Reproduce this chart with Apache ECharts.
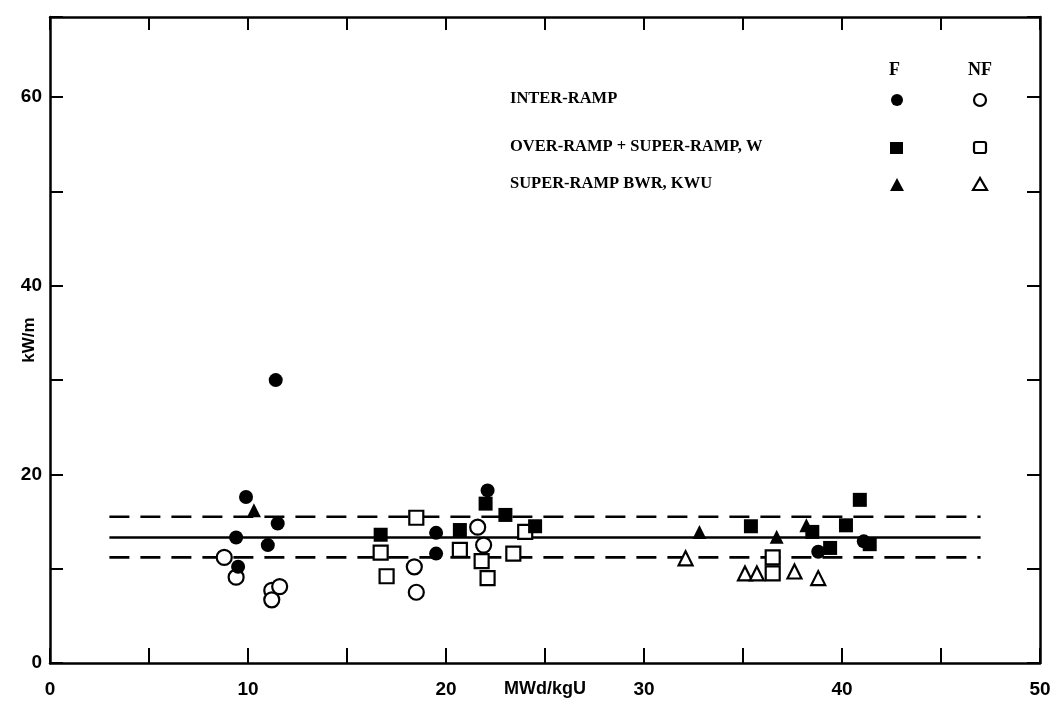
<!DOCTYPE html>
<html>
<head>
<meta charset="utf-8">
<script src="https://cdn.jsdelivr.net/npm/echarts@6/dist/echarts.min.js"></script>
<style>
  html, body { margin: 0; padding: 0; background: #fff; }
  #main { width: 1061px; height: 714px; }
</style>
</head>
<body>
<div id="main"></div>
<script>
// data: [MWd/kgU, kW/m]
var interRampF = [[9.9, 17.6], [11.4, 30.0], [11.5, 14.8], [9.4, 13.3], [11.0, 12.5], [9.5, 10.2],
  [19.5, 13.8], [19.5, 11.6], [22.1, 18.3], [38.8, 11.8], [41.1, 12.9]]
var interRampNF = [[8.8, 11.2], [9.4, 9.1], [11.2, 7.7], [11.6, 8.1], [11.2, 6.7],
  [18.4, 10.2], [18.5, 7.5], [21.6, 14.4], [21.9, 12.5]]
var overRampF = [[16.7, 13.6], [20.7, 14.1], [22.0, 16.9], [23.0, 15.7], [24.5, 14.5],
  [35.4, 14.5], [38.5, 13.9], [39.4, 12.2], [40.2, 14.6], [40.9, 17.3], [41.4, 12.6]]
var overRampNF = [[16.7, 11.7], [17.0, 9.2], [18.5, 15.4], [20.7, 12.0], [21.8, 10.8], [22.1, 9.0],
  [23.4, 11.6], [24.0, 13.9], [36.5, 11.2], [36.5, 9.5]]
var bwrF = [[10.3, 16.2], [32.8, 13.9], [36.7, 13.4], [38.2, 14.6]]
var bwrNF = [[32.1, 11.1], [35.1, 9.5], [35.7, 9.5], [37.6, 9.7], [38.8, 9.0]]

// mean line and scatter band
var lineRange = [3, 47]
var meanLine = 13.3
var bandUpper = 15.5
var bandLower = 11.2

var xLabels = [0, 10, 20, 30, 40, 50]
var yLabels = [0, 20, 40, 60]

var legendRows = ['INTER-RAMP', 'OVER-RAMP + SUPER-RAMP, W', 'SUPER-RAMP BWR, KWU']

var myChart = echarts.init(document.getElementById('main'))

function hLine (y) {
  return [[lineRange[0], y], [lineRange[1], y]]
}

function scatter (data, symbol, filled, size) {
  return {
    type: 'scatter',
    data: data,
    symbol: symbol,
    symbolSize: size,
    itemStyle: {
      color: filled ? '#000' : '#fff',
      borderColor: '#000',
      borderWidth: filled ? 0 : 2.2,
      opacity: 1
    },
    z: filled ? 4 : 3
  }
}

function refLine (y, dashed) {
  return {
    type: 'line',
    data: hLine(y),
    symbol: 'none',
    lineStyle: { color: '#000', width: 2.6, type: dashed ? [20, 11] : 'solid' },
    z: 2,
    silent: true
  }
}

var tickFont = { fontFamily: 'Liberation Sans', fontWeight: 'bold', fontSize: 19, color: '#000' }
var axisLine = { show: true, onZero: false, lineStyle: { color: '#000', width: 2.5 } }

// legend block drawn as graphics (text + F / NF symbols)
var graphics = [
  { type: 'text', left: 889, top: 61, style: { text: 'F', font: 'bold 18px "Liberation Serif"', fill: '#000' } },
  { type: 'text', left: 968, top: 61, style: { text: 'NF', font: 'bold 18px "Liberation Serif"', fill: '#000' } }
]
var rowY = [100, 148, 185]
legendRows.forEach(function (t, i) {
  graphics.push({ type: 'text', left: 510, top: rowY[i] - 10,
    style: { text: t, font: 'bold 16.5px "Liberation Serif"', fill: '#000' } })
})
// circles
graphics.push({ type: 'circle', shape: { cx: 897, cy: rowY[0], r: 6 }, style: { fill: '#000' } })
graphics.push({ type: 'circle', shape: { cx: 980, cy: rowY[0], r: 6 }, style: { fill: '#fff', stroke: '#000', lineWidth: 2.2 } })
// squares
graphics.push({ type: 'rect', shape: { x: 890, y: rowY[1] - 6, width: 13, height: 12 }, style: { fill: '#000' } })
graphics.push({ type: 'rect', shape: { x: 974, y: rowY[1] - 6, width: 12, height: 11, r: 2 }, style: { fill: '#fff', stroke: '#000', lineWidth: 2.2 } })
// triangles
graphics.push({ type: 'polygon', shape: { points: [[897, rowY[2] - 7], [890, rowY[2] + 6], [904, rowY[2] + 6]] }, style: { fill: '#000' } })
graphics.push({ type: 'polygon', shape: { points: [[980, rowY[2] - 7], [973, rowY[2] + 5], [987, rowY[2] + 5]] }, style: { fill: '#fff', stroke: '#000', lineWidth: 2.2 } })

var option = {
  backgroundColor: '#fff',
  animation: false,
  grid: { left: 50, right: 21, top: 17, bottom: 51, outerBoundsMode: 'none' },
  xAxis: [
    {
      type: 'value', min: 0, max: 50, interval: 5,
      name: 'MWd/kgU', nameLocation: 'middle', nameGap: 17, nameMoveOverlap: false,
      nameTextStyle: { fontFamily: 'Liberation Sans', fontWeight: 'bold', fontSize: 18, color: '#000', verticalAlign: 'top' },
      axisLine: axisLine,
      axisTick: { inside: true, length: 15, lineStyle: { color: '#000', width: 2 } },
      axisLabel: Object.assign({ margin: 17, formatter: function (v) { return xLabels.indexOf(v) >= 0 ? String(v) : '' } }, tickFont),
      splitLine: { show: false }
    },
    {
      type: 'value', position: 'top', min: 0, max: 50, interval: 5,
      axisLine: axisLine,
      axisTick: { inside: true, length: 13, lineStyle: { color: '#000', width: 2 } },
      axisLabel: { show: false },
      splitLine: { show: false }
    }
  ],
  yAxis: [
    {
      type: 'value', min: 0, max: 68.5, interval: 10,
      name: 'kW/m', nameLocation: 'middle', nameGap: 12, nameMoveOverlap: false,
      nameTextStyle: { fontFamily: 'Liberation Sans', fontWeight: 'bold', fontSize: 17, color: '#000' },
      axisLine: axisLine,
      axisTick: { inside: true, length: 13, lineStyle: { color: '#000', width: 2 } },
      axisLabel: Object.assign({ margin: 8, formatter: function (v) { return yLabels.indexOf(v) >= 0 ? String(v) : '' } }, tickFont),
      splitLine: { show: false }
    },
    {
      type: 'value', position: 'right', min: 0, max: 68.5, interval: 10,
      axisLine: axisLine,
      axisTick: { inside: true, length: 13, lineStyle: { color: '#000', width: 2 } },
      axisLabel: { show: false },
      splitLine: { show: false }
    }
  ],
  graphic: graphics,
  series: [
    refLine(meanLine, false),
    refLine(bandUpper, true),
    refLine(bandLower, true),
    scatter(interRampNF, 'circle', false, 15),
    scatter(overRampNF, 'rect', false, 14),
    scatter(bwrNF, 'triangle', false, 14),
    scatter(interRampF, 'circle', true, 14),
    scatter(overRampF, 'rect', true, 14),
    scatter(bwrF, 'triangle', true, 14)
  ]
}

myChart.setOption(option)
</script>
</body>
</html>
